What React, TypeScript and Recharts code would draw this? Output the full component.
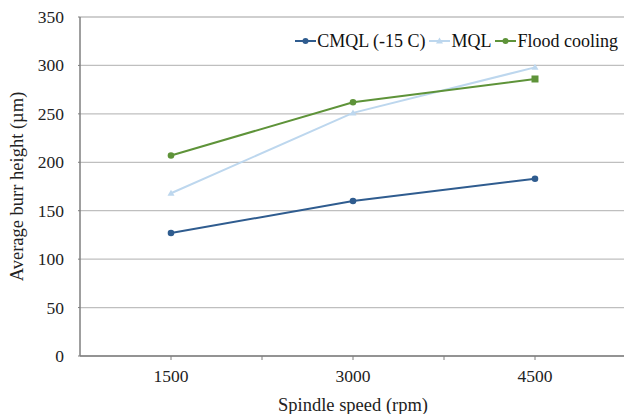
import React from 'react';
import { LineChart, Line, XAxis, YAxis, CartesianGrid } from 'recharts';

// Spindle speeds (rpm) and average burr height (µm) per cooling method
const speeds = [1500, 3000, 4500];
const cmql = [127, 160, 183];
const mql = [168, 251, 298];
const flood = [207, 262, 286];

const xTicks = [1500, 2250, 3000, 3750, 4500];
const labelledTicks = [1500, 3000, 4500];
const yTicks = [0, 50, 100, 150, 200, 250, 300, 350];

const seriesInfo = [
  { key: 'cmql', name: 'CMQL (-15 C)', color: '#2F5C8F', marker: 'circle' },
  { key: 'mql', name: 'MQL', color: '#BDD7EE', marker: 'triangle' },
  { key: 'flood', name: 'Flood cooling', color: '#5E9339', marker: 'circle' },
];

const data = speeds.map((s, i) => ({ speed: s, cmql: cmql[i], mql: mql[i], flood: flood[i] }));

const FONT = "'Liberation Serif', 'Times New Roman', Times, serif";

const Marker = (props: any) => {
  const { cx, cy, color, shape, index } = props;
  if (cx == null || cy == null) return null;
  const kind = shape === 'floodEnd' && index === speeds.length - 1 ? 'square' : shape;
  if (kind === 'square') {
    return <rect x={cx - 3.5} y={cy - 3.5} width={7} height={7} fill={color} />;
  }
  if (kind === 'triangle') {
    return <path d={`M${cx},${cy - 3.5} L${cx + 3.5},${cy + 2.5} L${cx - 3.5},${cy + 2.5} Z`} fill={color} />;
  }
  return <circle cx={cx} cy={cy} r={3.3} fill={color} />;
};

const XTick = (props: any) => {
  const { x, y, payload } = props;
  if (!labelledTicks.includes(payload.value)) return null;
  return (
    <text x={x} y={y + 20} textAnchor="middle" style={{ fontFamily: FONT }} fontSize={17.5} fill="#222">
      {payload.value}
    </text>
  );
};

const YTick = (props: any) => {
  const { x, y, payload } = props;
  return (
    <text x={x} y={y + 6} textAnchor="end" style={{ fontFamily: FONT }} fontSize={17.5} fill="#222">
      {payload.value}
    </text>
  );
};

const LegendBox = () => (
  <div
    style={{
      position: 'absolute',
      top: 31,
      right: 2,
      display: 'flex',
      alignItems: 'center',
      fontFamily: FONT,
      fontSize: 18,
      color: '#111',
      lineHeight: '20px',
      whiteSpace: 'nowrap',
    }}
  >
    {seriesInfo.map((s) => (
      <div key={s.key} style={{ display: 'flex', alignItems: 'center', marginRight: 4 }}>
        <svg width={21} height={10} style={{ marginRight: 1 }}>
          <line x1={0} y1={5} x2={21} y2={5} stroke={s.color} strokeWidth={2} />
          {s.marker === 'triangle' ? (
            <path d="M10.5,1.5 L14,7.5 L7,7.5 Z" fill={s.color} />
          ) : (
            <circle cx={10.5} cy={5} r={3} fill={s.color} />
          )}
        </svg>
        <span>{s.name}</span>
      </div>
    ))}
  </div>
);

export default function App() {
  return (
    <div style={{ position: 'absolute', left: 0, top: 0, width: 624, height: 414, background: '#fff', overflow: 'hidden' }}>
      <LineChart width={630} height={414} data={data} margin={{ top: 17, right: 4, bottom: 0, left: 0 }}>
        <CartesianGrid horizontal vertical={false} stroke="#BFBFBF" strokeWidth={1.3} />
        <XAxis
          dataKey="speed"
          type="number"
          domain={[750, 5250]}
          ticks={xTicks}
          interval={0}
          height={58}
          tick={<XTick />}
          tickSize={4}
          tickLine={{ stroke: '#7F7F7F' }}
          axisLine={{ stroke: '#7F7F7F', strokeWidth: 1.5 }}
          label={{ value: 'Spindle speed (rpm)', position: 'insideBottom', offset: 3, style: { fontFamily: FONT, fontSize: 18.5, fill: '#222' } }}
        />
        <YAxis
          width={80}
          domain={[0, 350]}
          ticks={yTicks}
          interval={0}
          tickSize={2}
          tickMargin={14}
          tickLine={{ stroke: '#7F7F7F' }}
          axisLine={{ stroke: '#7F7F7F', strokeWidth: 1.5 }}
          tick={<YTick />}
          label={{ value: 'Average burr height (µm)', angle: -90, position: 'insideLeft', offset: 16, style: { fontFamily: FONT, fontSize: 18.5, fill: '#222', textAnchor: 'middle' } }}
        />
        {seriesInfo.map((s) => (
          <Line
            key={s.key}
            dataKey={s.key}
            name={s.name}
            stroke={s.color}
            strokeWidth={2}
            isAnimationActive={false}
            dot={<Marker color={s.color} shape={s.key === 'flood' ? 'floodEnd' : s.marker} />}
            activeDot={false}
          />
        ))}
      </LineChart>
      <LegendBox />
    </div>
  );
}
